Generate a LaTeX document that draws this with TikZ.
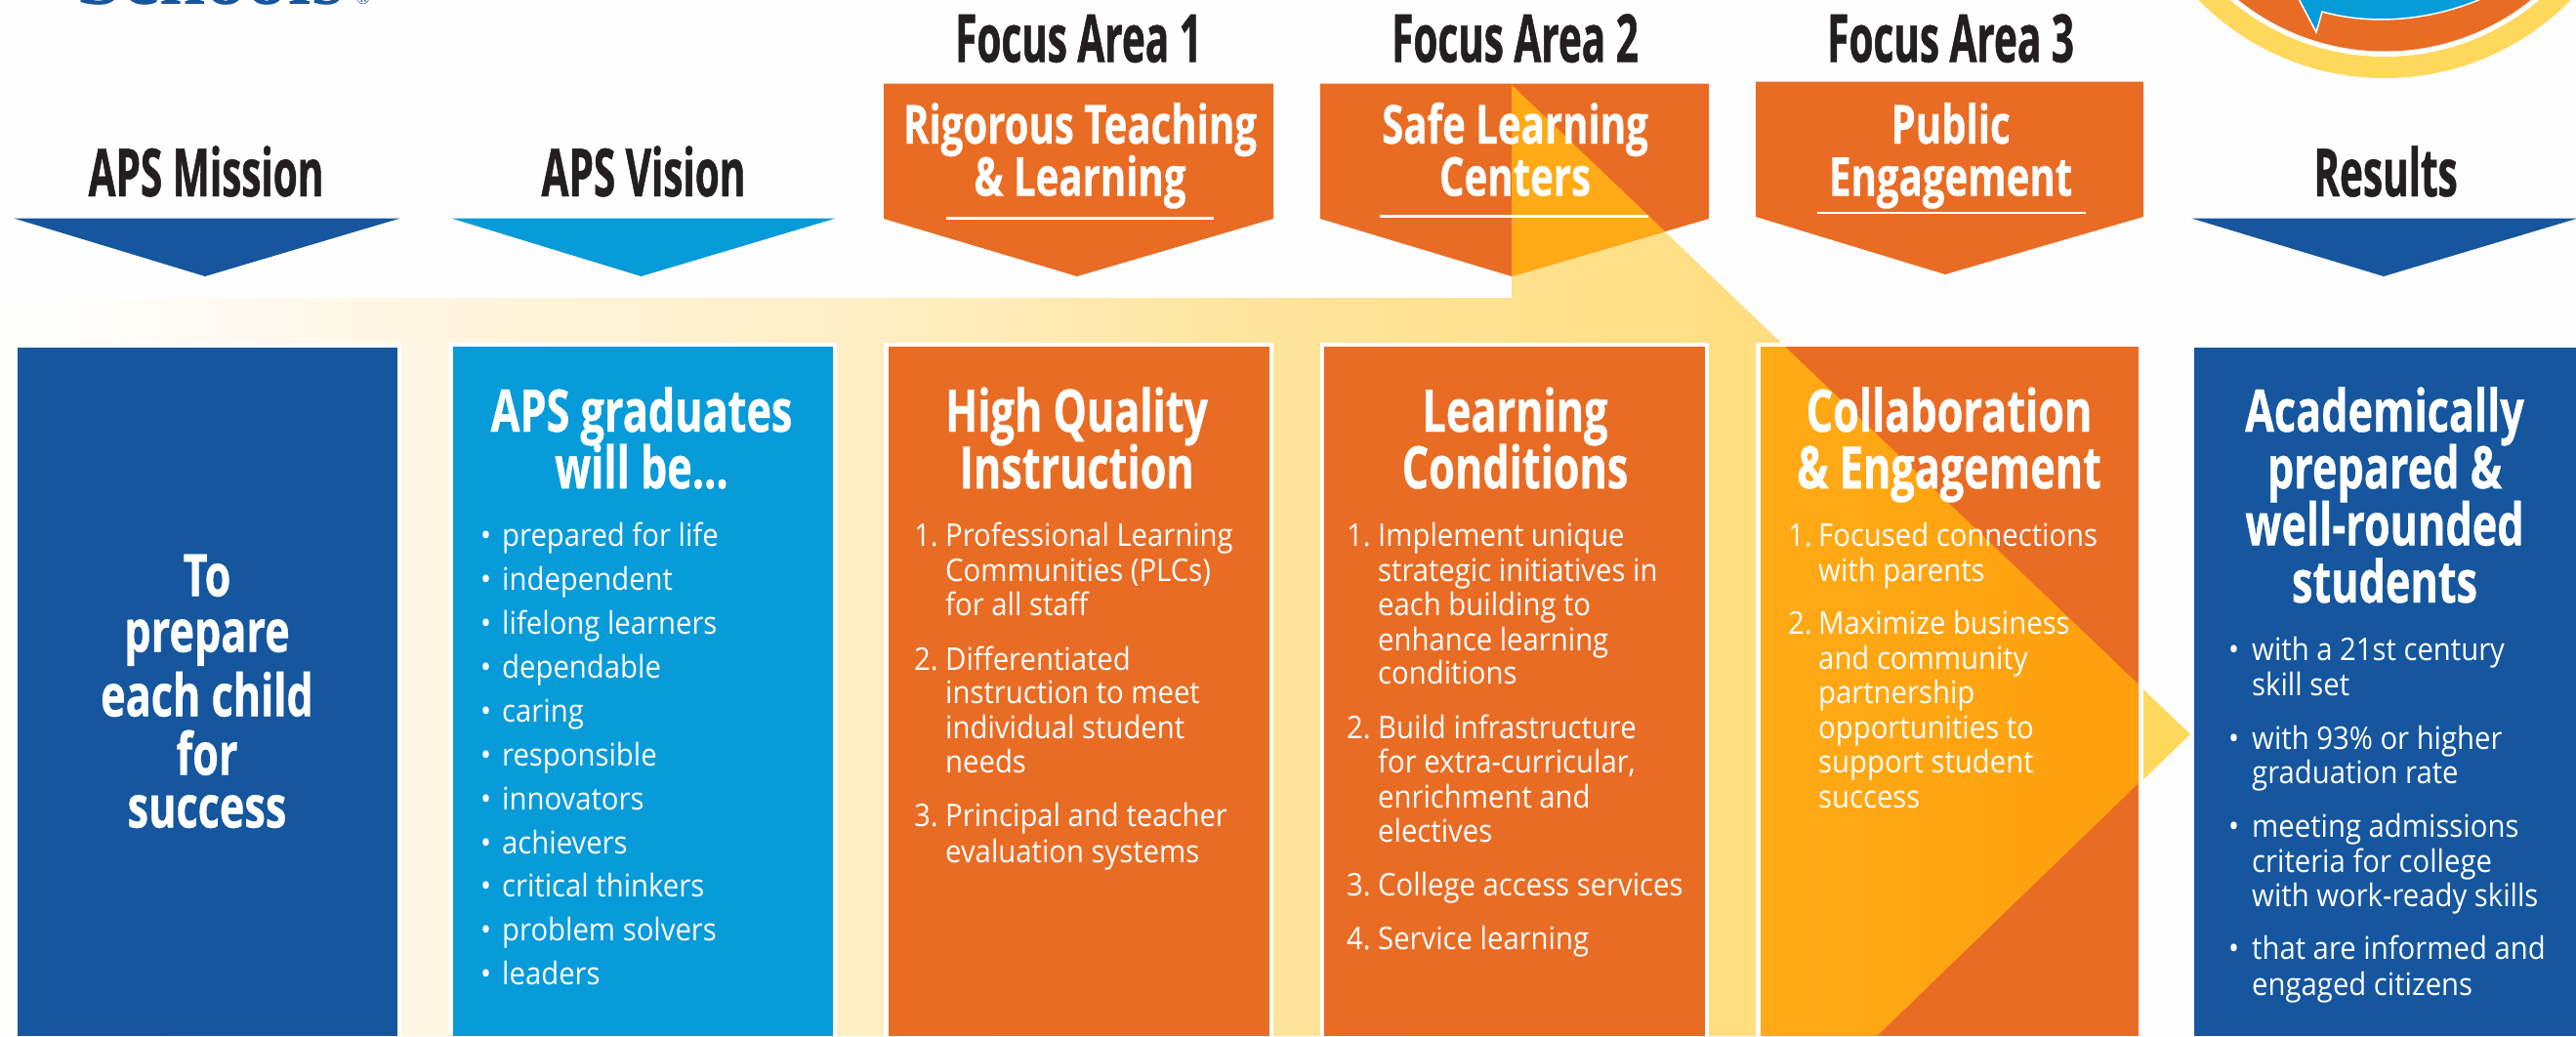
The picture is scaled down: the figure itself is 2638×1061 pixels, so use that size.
\documentclass[tikz,border=0pt]{standalone}
\usepackage{fontspec}
\setmainfont{Open Sans}
\newfontfamily\secfam[FakeStretch=0.595,FakeBold=0.7,UprightFont=*,BoldFont=* Bold]{Open Sans}
\newfontfamily\penfam[FakeStretch=0.73,FakeBold=0.5,UprightFont=*,BoldFont=* Bold]{Open Sans}
\newfontfamily\boxfam[FakeStretch=0.72,FakeBold=0.6,UprightFont=*,BoldFont=* Bold]{Open Sans}
\newfontfamily\bodyfam[FakeStretch=0.915]{Open Sans}
\newfontfamily\logofam{Liberation Serif}
\definecolor{bgc}{HTML}{FEFEFF}
\definecolor{ink}{HTML}{231F20}
\definecolor{navy}{HTML}{15569E}
\definecolor{sky}{HTML}{089BD9}
\definecolor{orng}{HTML}{E96C25}
\definecolor{gold}{HTML}{FFD85C}
\definecolor{amberA}{HTML}{FFAA16}
\definecolor{amberB}{HTML}{FF9F0D}
\definecolor{fadeA}{HTML}{FEFEFD}
\definecolor{fadeB}{HTML}{FEF6E2}
\definecolor{fadeC}{HTML}{FFEFC5}
\definecolor{fadeD}{HTML}{FFE49A}
\definecolor{fadeE}{HTML}{FFDE82}
\definecolor{fadeF}{HTML}{FFD85A}
\pgfdeclarehorizontalshading{arrowfade}{100bp}{
 color(0bp)=(fadeA); color(26.1bp)=(fadeA); color(34.6bp)=(fadeB); color(44.6bp)=(fadeC);
 color(54.6bp)=(fadeD); color(64.5bp)=(fadeE); color(75bp)=(fadeF); color(100bp)=(fadeF)}
\tikzset{
 sectitle/.style={anchor=base,inner sep=0pt,yshift=-2.5pt,text=ink,font=\secfam\bfseries\fontsize{68}{68}\selectfont},
 pentitle/.style={anchor=base,inner sep=0pt,yshift=-1pt,text=white,font=\penfam\bfseries\fontsize{55}{55}\selectfont},
 boxtitle/.style={anchor=base,inner sep=0pt,yshift=-1.5pt,text=white,font=\boxfam\bfseries\fontsize{60}{60}\selectfont},
 bodytext/.style={anchor=base west,inner sep=0pt,yshift=-1.5pt,text=white,font=\bodyfam\fontsize{32}{32}\selectfont},
 rulelin/.style={draw=white,line width=2.2pt},
 frame/.style={fill=white},
}
\newcommand{\ttl}[5]{\node[#1] (#2) at (#3,#4) {#5};}
\begin{document}
\begin{tikzpicture}[x=1pt,y=-1pt]
\useasboundingbox (0,0) rectangle (2638,1061);
\clip (0,0) rectangle (2638,1061);
\fill[bgc] (0,0) rectangle (2638,1061);
% logo fragments
\node[anchor=base west,inner sep=0pt,text=navy,font=\logofam\bfseries\fontsize{85}{85}\selectfont] (logotext) at (78,4) {Schools};
\node[anchor=base west,inner sep=0pt,text=navy,font=\logofam\fontsize{18}{18}\selectfont] (logomark) at (365,4) {®};
\fill[gold] (2442,-187) circle (267);
\fill[white] (2442,-187) circle (245);
\fill[orng] (2442,-187) circle (239.5);
\filldraw[fill=sky,draw=white,line width=1.5pt] (2378,12) .. controls (2432,27) and (2494,20) .. (2545,-3)
  -- (2560,-40) -- (2340,-40) -- (2353,-3) -- (2372,33) -- cycle;
% arrow
\shade[shading=arrowfade] (0,305) -- (1548,305) -- (1548,87) -- (2243,752) -- (1922,1061) -- (0,1061) -- cycle;
% top markers
\fill[navy] (14,223.5) -- (410,223.5) -- (210,283) -- cycle;
\fill[sky] (462,223.5) -- (856,223.5) -- (656.5,283) -- cycle;
\fill[navy] (2244,223.5) -- (2640,223.5) -- (2441,283) -- cycle;
\fill[orng] (905,85.5) -- (1304,85.5) -- (1304,224) -- (1103,283) -- (905,224) -- cycle;
\fill[orng] (1352,85.5) -- (1750,85.5) -- (1750,224) -- (1548,283) -- (1352,224) -- cycle;
\fill[orng] (1798,83.5) -- (2195,83.5) -- (2195,222) -- (1992,281) -- (1798,222) -- cycle;
\fill[amberA] (1548,87) -- (1705,237) -- (1548,283) -- cycle;
% rules
\coordinate (r1a) at (969,223.5); \coordinate (r1b) at (1243,223.5);
\coordinate (r2a) at (1413,221.5); \coordinate (r2b) at (1688,221.5);
\coordinate (r3a) at (1861,218); \coordinate (r3b) at (2136,218);
\draw[rulelin] (r1a) -- (r1b);
\draw[rulelin] (r2a) -- (r2b);
\draw[rulelin] (r3a) -- (r3b);
% boxes
\fill[frame] (14,351) rectangle (411,1061);
\fill[frame] (459,351) rectangle (857,1061);
\fill[frame] (905,351) rectangle (1304,1061);
\fill[frame] (1352,351) rectangle (1750,1061);
\fill[frame] (1798,351) rectangle (2195,1061);
\fill[frame] (2243,351) rectangle (2638,1061);
\fill[navy] (18,355.5) rectangle (407,1061);
\fill[sky] (464,355) rectangle (853,1061);
\fill[orng] (910,355) rectangle (1300,1061);
\fill[orng] (1356,355) rectangle (1746,1061);
\fill[orng] (1803,355) rectangle (2190,1061);
\fill[navy] (2247,355.5) rectangle (2638,1061);
\shade[left color=amberA,right color=amberB] (1803,355) -- (1828,355) -- (2190,701) -- (2190,802) -- (1922,1061) -- (1803,1061) -- cycle;
% section titles
\ttl{sectitle}{tMission}{211}{198.5}{APS Mission}
\ttl{sectitle}{tVision}{659}{198.5}{APS Vision}
\ttl{sectitle}{tFa}{1104.5}{61}{Focus Area 1}
\ttl{sectitle}{tFb}{1551.5}{61}{Focus Area 2}
\ttl{sectitle}{tFc}{1997.6}{61}{Focus Area 3}
\ttl{sectitle}{tResults}{2443}{198.5}{Results}
% pentagon titles
\ttl{pentitle}{pa}{1106}{146}{Rigorous Teaching}
\ttl{pentitle}{pb}{1106}{199.5}{\& Learning}
\ttl{pentitle}{pc}{1551.5}{146}{Safe Learning}
\ttl{pentitle}{pd}{1551.5}{199.5}{Centers}
\ttl{pentitle}{pe}{1997.6}{146}{Public}
\ttl{pentitle}{pf}{1997.6}{199.5}{Engagement}
% box titles
\ttl{boxtitle}{ma}{212}{609}{To}
\ttl{boxtitle}{mb}{212}{666}{prepare}
\ttl{boxtitle}{mc}{212}{732}{each child}
\ttl{boxtitle}{md}{212}{792}{for}
\ttl{boxtitle}{me}{212}{846}{success}
\ttl{boxtitle}{va}{657}{440.5}{APS graduates}
\ttl{boxtitle}{vb}{657}{498.6}{will be...}
\ttl{boxtitle}{qa}{1102.7}{440.5}{High Quality}
\ttl{boxtitle}{qb}{1102.7}{498.6}{Instruction}
\ttl{boxtitle}{la}{1551.5}{440.5}{Learning}
\ttl{boxtitle}{lb}{1551.5}{498.6}{Conditions}
\ttl{boxtitle}{ca}{1996}{440.5}{Collaboration}
\ttl{boxtitle}{cb}{1996}{498.6}{\& Engagement}
\ttl{boxtitle}{ra}{2442}{440.5}{Academically}
\ttl{boxtitle}{rb}{2442}{498.6}{prepared \&}
\ttl{boxtitle}{rc}{2442}{557}{well-rounded}
\ttl{boxtitle}{rd}{2442}{615.5}{students}
% vision list
\newcommand{\vitem}[3]{\ttl{bodytext}{vb#1}{492}{#2}{•}\ttl{bodytext}{v#1}{514}{#2}{#3}}
\vitem{a}{557.7}{prepared for life}
\vitem{b}{602.7}{independent}
\vitem{c}{647.6}{lifelong learners}
\vitem{d}{693}{dependable}
\vitem{e}{737.6}{caring}
\vitem{f}{782.5}{responsible}
\vitem{g}{827.5}{innovators}
\vitem{h}{872.5}{achievers}
\vitem{i}{917}{critical thinkers}
\vitem{j}{962}{problem solvers}
\vitem{k}{1006.7}{leaders}
% quality list
\ttl{bodytext}{qn1}{936}{558}{1.}
\ttl{bodytext}{q1}{968}{558}{Professional Learning}
\ttl{bodytext}{q2}{968}{594}{Communities (PLCs)}
\ttl{bodytext}{q3}{968}{629}{for all staff}
\ttl{bodytext}{qn2}{936}{684.5}{2.}
\ttl{bodytext}{q4}{968}{684.5}{Differentiated}
\ttl{bodytext}{q5}{968}{719}{instruction to meet}
\ttl{bodytext}{q6}{968}{755}{individual student}
\ttl{bodytext}{q7}{968}{790}{needs}
\ttl{bodytext}{qn3}{936}{845.4}{3.}
\ttl{bodytext}{q8}{968}{845.4}{Principal and teacher}
\ttl{bodytext}{q9}{968}{881.6}{evaluation systems}
% learning list
\ttl{bodytext}{ln1}{1379}{558}{1.}
\ttl{bodytext}{l1}{1411}{558}{Implement unique}
\ttl{bodytext}{l2}{1411}{594}{strategic initiatives in}
\ttl{bodytext}{l3}{1411}{629}{each building to}
\ttl{bodytext}{l4}{1411}{664.5}{enhance learning}
\ttl{bodytext}{l5}{1411}{699}{conditions}
\ttl{bodytext}{ln2}{1379}{755}{2.}
\ttl{bodytext}{l6}{1411}{755}{Build infrastructure}
\ttl{bodytext}{l7}{1411}{790}{for extra-curricular,}
\ttl{bodytext}{l8}{1411}{826}{enrichment and}
\ttl{bodytext}{l9}{1411}{861}{electives}
\ttl{bodytext}{ln3}{1379}{916}{3.}
\ttl{bodytext}{l10}{1411}{916}{College access services}
\ttl{bodytext}{ln4}{1379}{971}{4.}
\ttl{bodytext}{l11}{1411}{971}{Service learning}
% collaboration list
\ttl{bodytext}{cn1}{1831}{558}{1.}
\ttl{bodytext}{c1}{1862}{558}{Focused connections}
\ttl{bodytext}{c2}{1862}{594}{with parents}
\ttl{bodytext}{cn2}{1831}{648}{2.}
\ttl{bodytext}{c3}{1862}{648}{Maximize business}
\ttl{bodytext}{c4}{1862}{684}{and community}
\ttl{bodytext}{c5}{1862}{719}{partnership}
\ttl{bodytext}{c6}{1862}{755}{opportunities to}
\ttl{bodytext}{c7}{1862}{790}{support student}
\ttl{bodytext}{c8}{1862}{826}{success}
% results list
\newcommand{\ritem}[3]{\ttl{bodytext}{rb#1}{2282}{#2}{•}\ttl{bodytext}{r#1}{2306}{#2}{#3}}
\ritem{1}{675}{with a 21st century}
\ttl{bodytext}{r2}{2306}{711}{skill set}
\ritem{3}{765.6}{with 93\% or higher}
\ttl{bodytext}{r4}{2306}{801}{graduation rate}
\ritem{5}{856}{meeting admissions}
\ttl{bodytext}{r6}{2306}{892}{criteria for college}
\ttl{bodytext}{r7}{2306}{927}{with work-ready skills}
\ritem{8}{981}{that are informed and}
\ttl{bodytext}{r9}{2306}{1018}{engaged citizens}
\end{tikzpicture}
\end{document}
